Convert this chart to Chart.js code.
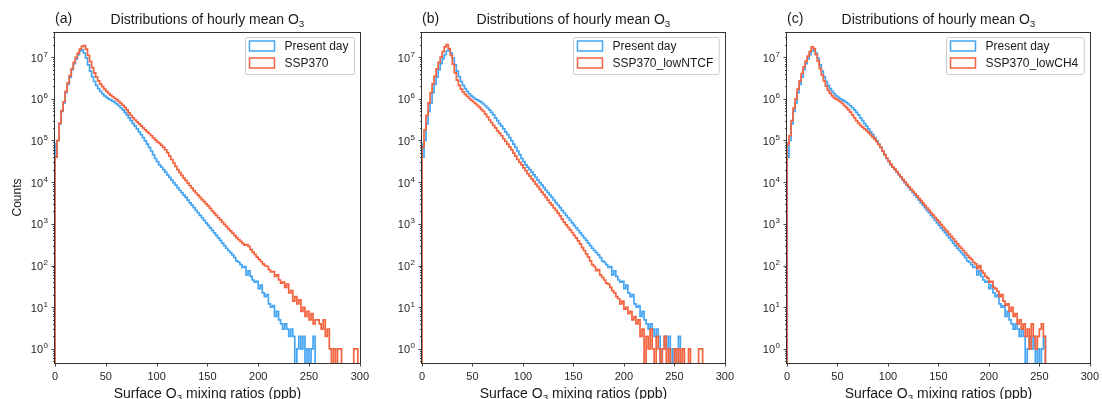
<!DOCTYPE html>
<html>
<head>
<meta charset="utf-8">
<script src="https://cdn.jsdelivr.net/npm/chart.js@4.4.1/dist/chart.umd.min.js"></script>
<style>
  html, body { margin: 0; padding: 0; background: #fff; }
  body { width: 1102px; height: 399px; position: relative; overflow: hidden; }
  canvas { position: absolute; top: 0; }
</style>
</head>
<body>
<canvas id="chartA" width="372" height="399" style="left:0px"></canvas>
<canvas id="chartB" width="370" height="399" style="left:367px"></canvas>
<canvas id="chartC" width="370" height="399" style="left:732px"></canvas>
<script>
// histogram bins: 2 ppb wide, starting at 0 ppb
const binWidth = 2;
const xTicks = [0, 50, 100, 150, 200, 250, 300];
const yTicks = [1, 10, 100, 1e3, 1e4, 1e5, 1e6, 1e7];
const yTickExponents = ['0', '1', '2', '3', '4', '5', '6', '7'];

// counts per bin (each row = 20 ppb)
const presentDay = [
  9e4, 4e4, 1.0e5, 2.5e5, 5e5, 8e5, 1.4e6, 2.2e6, 3.3e6, 5e6,
  7e6, 9e6, 1.15e7, 1.4e7, 1.5e7, 1.25e7, 9.5e6, 6.5e6, 4.6e6, 3.4e6,
  2.6e6, 2.1e6, 1.75e6, 1.5e6, 1.32e6, 1.17e6, 1.08e6, 1.0e6, 9.4e5, 8.8e5,
  8.2e5, 7.5e5, 6.8e5, 6.1e5, 5.4e5, 4.7e5, 4.1e5, 3.5e5, 3.0e5, 2.55e5,
  2.2e5, 1.9e5, 1.6e5, 1.38e5, 1.17e5, 9.8e4, 8.2e4, 6.8e4, 5.6e4, 4.6e4,
  3.7e4, 3.1e4, 2.6e4, 2.3e4, 2e4, 1.75e4, 1.5e4, 1.3e4, 1.12e4, 9.8e3,
  8.5e3, 7.4e3, 6.4e3, 5.6e3, 4.9e3, 4.3e3, 3.7e3, 3.2e3, 2.8e3, 2.45e3,
  2.1e3, 1.85e3, 1.6e3, 1.4e3, 1.22e3, 1.06e3, 920, 800, 700, 610,
  530, 460, 400, 345, 300, 260, 230, 205, 180, 155,
  130, 120, 105, 90, 95, 60, 75, 55, 45, 40,
  42, 28, 34, 22, 18, 20, 12, 10, 11, 6,
  8, 5, 4, 3, 4, 3, 2, 3, 2, 0,
  1, 2, 1, 2, 0, 1, 0, 1, 2
];

const ssp370 = [
  4.2e4, 4e4, 1.0e5, 2.6e5, 5.2e5, 8.5e5, 1.5e6, 2.4e6, 3.6e6, 5.3e6,
  7.5e6, 9.8e6, 1.25e7, 1.55e7, 1.8e7, 1.9e7, 1.55e7, 1.1e7, 7.8e6, 5.6e6,
  4.2e6, 3.3e6, 2.7e6, 2.25e6, 1.95e6, 1.7e6, 1.5e6, 1.35e6, 1.22e6, 1.12e6,
  1.03e6, 9.5e5, 8.6e5, 7.8e5, 7e5, 6.2e5, 5.4e5, 4.6e5, 4e5, 3.5e5,
  3.1e5, 2.8e5, 2.5e5, 2.25e5, 2e5, 1.8e5, 1.6e5, 1.45e5, 1.3e5, 1.15e5,
  1.03e5, 9.3e4, 8.5e4, 7.6e4, 6.8e4, 6e4, 5.1e4, 4.2e4, 3.5e4, 2.9e4,
  2.4e4, 2e4, 1.7e4, 1.45e4, 1.25e4, 1.1e4, 9.5e3, 8.2e3, 7.2e3, 6.3e3,
  5.5e3, 4.9e3, 4.3e3, 3.8e3, 3.4e3, 3e3, 2.7e3, 2.35e3, 2.05e3, 1.8e3,
  1.6e3, 1.4e3, 1.25e3, 1.1e3, 970, 860, 760, 680, 600, 530,
  470, 420, 380, 340, 310, 320, 290, 240, 210, 185,
  160, 140, 125, 110, 100, 95, 80, 70, 72, 55,
  60, 45, 38, 40, 30, 36, 22, 25, 14, 18,
  12, 15, 8, 10, 6, 8, 5, 7, 4, 5,
  5, 4, 3, 5, 2, 3, 1, 0, 1, 0,
  1, 1, 0, 0, 0, 0, 0, 0, 1, 1
];

const ssp370LowNTCF = [
  2.5e4, 7e4, 1.8e5, 4e5, 8e5, 1.4e6, 2.3e6, 3.5e6, 5.2e6, 7.5e6,
  1.0e7, 1.35e7, 1.75e7, 2.0e7, 1.6e7, 1.1e7, 6.8e6, 4.2e6, 2.8e6, 2.1e6,
  1.7e6, 1.45e6, 1.28e6, 1.15e6, 1.03e6, 9.3e5, 8.5e5, 7.7e5, 7e5, 6.3e5,
  5.6e5, 5e5, 4.3e5, 3.7e5, 3.1e5, 2.7e5, 2.3e5, 2e5, 1.7e5, 1.5e5,
  1.3e5, 1.1e5, 9.5e4, 8.2e4, 7e4, 6e4, 5e4, 4.2e4, 3.5e4, 3e4,
  2.6e4, 2.2e4, 1.9e4, 1.6e4, 1.4e4, 1.2e4, 1.05e4, 9e3, 7.8e3, 6.7e3,
  5.8e3, 5e3, 4.3e3, 3.7e3, 3.2e3, 2.8e3, 2.4e3, 2.1e3, 1.8e3, 1.55e3,
  1.3e3, 1.1e3, 950, 820, 720, 620, 530, 460, 390, 330,
  270, 230, 190, 160, 130, 105, 95, 75, 80, 60,
  52, 45, 38, 36, 30, 25, 22, 18, 16, 12,
  14, 9, 10, 7, 8, 5, 6, 4, 5, 2,
  3, 0, 2, 1, 3, 1, 0, 2, 1, 0,
  1, 2, 0, 1, 0, 0, 1, 0, 1, 0,
  1, 0, 0, 1, 0, 0, 0, 0, 1, 1
];

const ssp370LowCH4 = [
  9e4, 8e4, 1.3e5, 3e5, 6e5, 1.0e6, 1.7e6, 2.7e6, 4e6, 5.8e6,
  8e6, 1.05e7, 1.35e7, 1.75e7, 1.6e7, 1.15e7, 8e6, 5.3e6, 3.7e6, 2.7e6,
  2.0e6, 1.6e6, 1.35e6, 1.18e6, 1.05e6, 9.8e5, 9.2e5, 8.5e5, 7.7e5, 6.9e5,
  6.2e5, 5.5e5, 4.8e5, 4.1e5, 3.5e5, 3.0e5, 2.6e5, 2.3e5, 2.1e5, 1.9e5,
  1.72e5, 1.55e5, 1.38e5, 1.22e5, 1.08e5, 9.4e4, 8e4, 6.8e4, 5.6e4, 4.6e4,
  3.8e4, 3.2e4, 2.7e4, 2.3e4, 2.05e4, 1.8e4, 1.55e4, 1.35e4, 1.17e4, 1.02e4,
  8.9e3, 7.8e3, 6.8e3, 6e3, 5.3e3, 4.7e3, 4.1e3, 3.6e3, 3.15e3, 2.75e3,
  2.4e3, 2.1e3, 1.85e3, 1.62e3, 1.42e3, 1.25e3, 1.1e3, 960, 840, 740,
  650, 570, 500, 440, 380, 330, 290, 260, 230, 200,
  175, 155, 140, 120, 110, 85, 100, 75, 65, 55,
  50, 40, 42, 30, 28, 24, 18, 20, 14, 11,
  12, 8, 10, 6, 7, 4, 5, 3, 4, 2,
  3, 1, 4, 2, 1, 2, 3, 4, 2
];

const blue = '#45a5f2';
const red = '#f4623e';
const emptyBin = 0.1; // empty bins drop below the axis floor
const fontFamily = "'Liberation Sans', Arial, Helvetica, sans-serif";
Chart.defaults.font.family = fontFamily;
Chart.defaults.color = '#262626';

function toSteps(counts) {
  const pts = [{x: 0, y: emptyBin}];
  counts.forEach((c, i) => pts.push({x: i * binWidth, y: c > 0 ? c : emptyBin}));
  pts.push({x: counts.length * binWidth, y: emptyBin});
  return pts;
}

// text with a subscript "3" part
function drawRich(ctx, parts, cx, baseline, size) {
  const widths = parts.map(p => {
    ctx.font = (p.sub ? size * 0.7 : size) + 'px ' + fontFamily;
    return ctx.measureText(p.t).width;
  });
  let x = cx - widths.reduce((s, w) => s + w, 0) / 2;
  parts.forEach((p, i) => {
    ctx.font = (p.sub ? size * 0.7 : size) + 'px ' + fontFamily;
    ctx.fillText(p.t, x, baseline + (p.sub ? size * 0.22 : 0));
    x += widths[i];
  });
}

const decor = {
  id: 'decor',
  afterDraw(chart, args, opts) {
    const {ctx, chartArea: a, scales: {x, y}} = chart;
    ctx.save();
    ctx.strokeStyle = '#333';
    ctx.lineWidth = 0.9;
    // y ticks, major and minor
    ctx.beginPath();
    for (let e = -1; e <= 7; e++) {
      for (let m = 1; m <= 9; m++) {
        const v = m * Math.pow(10, e);
        if (v < y.min || v > y.max) continue;
        const py = Math.round(y.getPixelForValue(v)) + 0.5;
        const len = m === 1 ? 3.5 : 2;
        ctx.moveTo(a.left, py);
        ctx.lineTo(a.left - len, py);
      }
    }
    xTicks.forEach(v => {
      const px = Math.round(x.getPixelForValue(v)) + 0.5;
      ctx.moveTo(px, a.bottom);
      ctx.lineTo(px, a.bottom + 3.5);
    });
    ctx.stroke();
    ctx.lineWidth = 1;
    ctx.strokeRect(Math.round(a.left) - 0.5, Math.round(a.top) + 0.5,
      Math.round(a.right - a.left) + 1, Math.round(a.bottom - a.top));

    // y tick labels 10^n
    ctx.fillStyle = '#262626';
    ctx.textBaseline = 'alphabetic';
    ctx.textAlign = 'right';
    yTicks.forEach((v, i) => {
      const py = y.getPixelForValue(v);
      ctx.font = '8px ' + fontFamily;
      const ew = ctx.measureText(yTickExponents[i]).width;
      const right = a.left - 7;
      ctx.fillText(yTickExponents[i], right, py - 0.5);
      ctx.font = '11px ' + fontFamily;
      ctx.fillText('10', right - ew - 0.5, py + 4.5);
    });

    // titles
    ctx.fillStyle = '#1a1a1a';
    ctx.textAlign = 'left';
    ctx.font = '14px ' + fontFamily;
    ctx.fillText(opts.letter, a.left, 23);
    const cx = (a.left + a.right) / 2;
    drawRich(ctx, [{t: 'Distributions of hourly mean O'}, {t: '3', sub: true}], cx, 23.5, 14);
    drawRich(ctx, [{t: 'Surface O'}, {t: '3', sub: true}, {t: ' mixing ratios (ppb)'}], cx, 398, 14);
    if (opts.yTitle) {
      ctx.save();
      ctx.translate(20.5, (a.top + a.bottom) / 2);
      ctx.rotate(-Math.PI / 2);
      ctx.textAlign = 'center';
      ctx.font = '12px ' + fontFamily;
      ctx.fillText(opts.yTitle, 0, 0);
      ctx.restore();
    }

    // legend
    const sets = chart.data.datasets;
    ctx.font = '12px ' + fontFamily;
    const tw = Math.max(...sets.map(d => ctx.measureText(d.label).width));
    const bw = 39 + tw + 6, bh = 37;
    const bx = Math.round(a.right - 6 - bw) + 0.5, by = Math.round(a.top + 5) + 0.5;
    ctx.beginPath();
    ctx.roundRect(bx, by, bw, bh, 2);
    ctx.fillStyle = 'rgba(255,255,255,0.8)';
    ctx.fill();
    ctx.strokeStyle = '#cccccc';
    ctx.stroke();
    ctx.textBaseline = 'middle';
    sets.forEach((d, i) => {
      const cy = by + 8.7 + i * 16.6;
      ctx.strokeStyle = d.borderColor;
      ctx.lineWidth = 1.5;
      ctx.strokeRect(bx + 4, Math.round(cy - 5), 25, 10);
      ctx.fillStyle = '#1a1a1a';
      ctx.fillText(d.label, bx + 39, cy + 0.5);
    });
    ctx.restore();
  }
};

function makeChart(id, letter, scenarioLabel, scenario, yTitle, padRight) {
  const ctx = document.getElementById(id).getContext('2d');
  return new Chart(ctx, {
    type: 'line',
    data: {
      datasets: [
        {label: 'Present day', data: toSteps(presentDay), borderColor: blue, order: 2},
        {label: scenarioLabel, data: toSteps(scenario), borderColor: red, order: 1}
      ]
    },
    options: {
      responsive: false,
      animation: false,
      events: [],
      layout: {padding: {top: 32, right: padRight, bottom: 0, left: 0}},
      elements: {
        line: {stepped: 'after', borderWidth: 1.7, tension: 0, fill: false},
        point: {radius: 0}
      },
      plugins: {
        legend: {display: false},
        title: {display: false},
        tooltip: {enabled: false},
        decor: {letter: letter, yTitle: yTitle}
      },
      scales: {
        x: {
          type: 'linear', min: 0, max: 300,
          afterBuildTicks: s => { s.ticks = xTicks.map(v => ({value: v})); },
          afterFit: s => { s.height = 36; },
          ticks: {font: {size: 11}, padding: 3, maxRotation: 0},
          grid: {drawOnChartArea: false, color: 'rgba(0,0,0,0)', tickLength: 4},
          border: {display: false}
        },
        y: {
          type: 'logarithmic', min: 0.46, max: 4e7,
          afterBuildTicks: s => { s.ticks = yTicks.map(v => ({value: v})); },
          afterFit: s => { s.width = 55; },
          ticks: {display: false},
          grid: {display: false},
          border: {display: false}
        }
      }
    },
    plugins: [decor]
  });
}

makeChart('chartA', '(a)', 'SSP370', ssp370, 'Counts', 12);
makeChart('chartB', '(b)', 'SSP370_lowNTCF', ssp370LowNTCF, null, 12);
makeChart('chartC', '(c)', 'SSP370_lowCH4', ssp370LowCH4, null, 10);
</script>
</body>
</html>
